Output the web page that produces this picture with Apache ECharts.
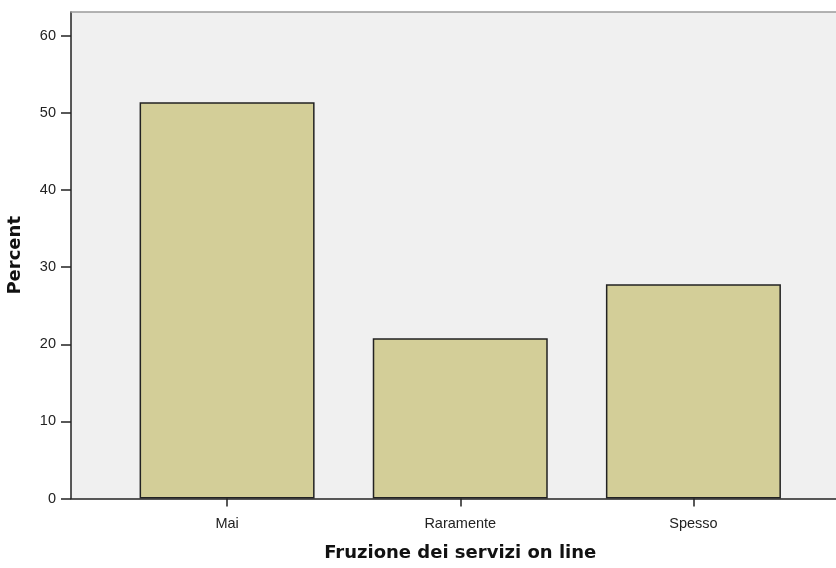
<!DOCTYPE html>
<html><head><meta charset="utf-8">
<script src="https://cdn.jsdelivr.net/npm/echarts@6/dist/echarts.min.js"></script>
<style>html,body{margin:0;padding:0;background:#fff}#c{width:836px;height:568px}</style>
</head><body><div id="c"></div>
<script>
var categories = ['Mai', 'Raramente', 'Spesso'];
var percents = [51.4, 20.8, 27.8];
var yTicks = [0, 10, 20, 30, 40, 50, 60];
var yMax = 63.1;
var xTitle = 'Fruzione dei servizi on line';
var yTitle = 'Percent';

var chart = echarts.init(document.getElementById('c'), null, {renderer: 'canvas'});
var labelFont = {fontFamily: 'Liberation Sans, Arial, sans-serif', fontSize: 14.5, color: '#222'};
chart.setOption({
  animation: false,
  backgroundColor: '#ffffff',
  grid: [
    {left: 71, right: 0, top: 12, bottom: 69.5, show: true, backgroundColor: '#f0f0f0', borderWidth: 0},
    {left: 110.5, right: 26, top: 12, bottom: 69.5}
  ],
  xAxis: [
    {type: 'value', gridIndex: 0, min: 0, max: 1, position: 'bottom',
     axisLine: {show: true, lineStyle: {color: '#222', width: 1.5}},
     axisTick: {show: false}, axisLabel: {show: false}, splitLine: {show: false}},
    {type: 'value', gridIndex: 0, min: 0, max: 1, position: 'top',
     axisLine: {show: true, lineStyle: {color: '#9a9a9a', width: 1.5}},
     axisTick: {show: false}, axisLabel: {show: false}, splitLine: {show: false}},
    {type: 'category', gridIndex: 1, data: categories, position: 'bottom',
     axisLine: {show: false},
     axisTick: {show: true, alignWithLabel: true, length: 8, lineStyle: {color: '#222', width: 1.5}},
     axisLabel: Object.assign({margin: 18}, labelFont),
     name: xTitle, nameLocation: 'middle', nameGap: 46,
     nameTextStyle: {fontFamily: 'DejaVu Sans, sans-serif', fontWeight: 'bold', fontSize: 18, color: '#111'}}
  ],
  yAxis: [
    {type: 'value', gridIndex: 0, min: 0, max: yMax,
     axisLine: {show: true, lineStyle: {color: '#222', width: 1.5}},
     axisTick: {show: true, length: 10, customValues: yTicks, lineStyle: {color: '#222', width: 1.5}},
     axisLabel: Object.assign({margin: 15, customValues: yTicks}, labelFont),
     splitLine: {show: false}},
    {type: 'value', gridIndex: 1, min: 0, max: yMax, show: false, splitLine: {show: false}}
  ],
  graphic: [
    {type: 'text', left: 6, top: 216, rotation: Math.PI / 2,
     style: {text: yTitle, font: 'bold 18px "DejaVu Sans", sans-serif', fill: '#111'}}
  ],
  series: [{
    type: 'bar', xAxisIndex: 2, yAxisIndex: 1, data: percents, barWidth: 175,
    itemStyle: {color: '#d3ce98', borderColor: '#222', borderWidth: 1.5}
  }]
});
</script></body></html>
